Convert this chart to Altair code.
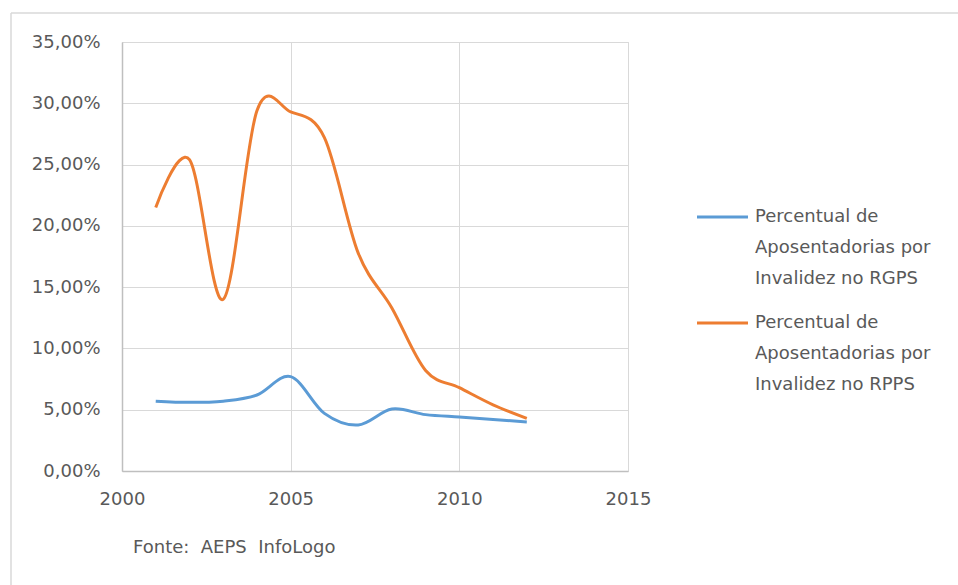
import altair as alt
import pandas as pd

# Share of disability retirements (aposentadorias por invalidez), 2001-2012
years = [2001, 2002, 2003, 2004, 2005, 2006, 2007, 2008, 2009, 2010, 2011, 2012]
rgps = [5.7, 5.6, 5.7, 6.2, 7.7, 4.7, 3.75, 5.05, 4.6, 4.4, 4.2, 4.0]
rpps = [21.5, 25.4, 14.0, 29.4, 29.3, 27.2, 17.8, 13.3, 8.2, 6.8, 5.4, 4.3]

series_names = [
    "Percentual de\nAposentadorias por\nInvalidez no RGPS",
    "Percentual de\nAposentadorias por\nInvalidez no RPPS",
]
colors = ["#5b9bd5", "#ed7d31"]
y_ticks = [0, 5, 10, 15, 20, 25, 30, 35]
x_ticks = [2000, 2005, 2010, 2015]
source_text = "Fonte:\u00a0 AEPS\u00a0 InfoLogo"

FONT = "DejaVu Sans"
FONT_SIZE = 18
TEXT_COLOR = "#595959"

rows = []
for name, vals in zip(series_names, [rgps, rpps]):
    for yr, v in zip(years, vals):
        rows.append({"ano": yr, "valor": v / 100.0, "serie": name})
df = pd.DataFrame(rows)

W, H = 506, 429
PAD_L, PAD_T = 122, 42

lines = alt.Chart(df).mark_line(
    strokeWidth=3, interpolate="cardinal", clip=False
).encode(
    x=alt.X(
        "ano:Q",
        scale=alt.Scale(domain=[2000, 2015], nice=False),
        axis=alt.Axis(
            values=x_ticks, format="d", title=None, ticks=False,
            labelPadding=19, grid=True, labelFlush=False,
        ),
    ),
    y=alt.Y(
        "valor:Q",
        scale=alt.Scale(domain=[0, 0.35], nice=False),
        axis=alt.Axis(
            values=[t / 100 for t in y_ticks],
            labelExpr="replace(format(datum.value * 100, '.2f'), '.', ',') + '%'",
            title=None, ticks=False, labelPadding=22, grid=True,
        ),
    ),
    color=alt.Color(
        "serie:N",
        scale=alt.Scale(domain=series_names, range=colors),
        legend=None,
    ),
)

# Legend drawn beside the plot: colour swatch plus wrapped label per series
leg_x0, leg_x1, leg_tx = 697 - PAD_L, 748 - PAD_L, 755 - PAD_L
leg_y = [217 - PAD_T, 323 - PAD_T]
legend_layers = []
for name, col, ly in zip(series_names, colors, leg_y):
    legend_layers.append(
        alt.Chart(pd.DataFrame({"t": [name]})).mark_rule(
            color=col, strokeWidth=3, clip=False
        ).encode(x=alt.value(leg_x0), x2=alt.value(leg_x1), y=alt.value(ly))
    )
    legend_layers.append(
        alt.Chart(pd.DataFrame({"t": [name]})).mark_text(
            align="left", baseline="middle", lineBreak="\n", lineHeight=31,
            font=FONT, fontSize=FONT_SIZE, color=TEXT_COLOR, clip=False,
        ).encode(text="t:N", x=alt.value(leg_tx), y=alt.value(ly))
    )

source = alt.Chart(pd.DataFrame({"t": [source_text]})).mark_text(
    align="left", baseline="middle", font=FONT, fontSize=FONT_SIZE,
    color=TEXT_COLOR, clip=False,
).encode(text="t:N", x=alt.value(133 - PAD_L), y=alt.value(548 - PAD_T))

# Outer chart-area frame (top and left edges)
frame_top = alt.Chart(pd.DataFrame({"t": [0]})).mark_rule(
    color="#d9d9d9", strokeWidth=1.5, clip=False
).encode(x=alt.value(11 - PAD_L), x2=alt.value(958 - PAD_L), y=alt.value(13 - PAD_T))
frame_left = alt.Chart(pd.DataFrame({"t": [0]})).mark_rule(
    color="#d9d9d9", strokeWidth=1.5, clip=False
).encode(x=alt.value(11 - PAD_L), y=alt.value(13 - PAD_T), y2=alt.value(585 - PAD_T))

chart = alt.layer(
    frame_top, frame_left, lines, *legend_layers, source
).properties(
    width=W, height=H,
    autosize=alt.AutoSizeParams(type="none"),
    padding={"left": PAD_L, "top": PAD_T, "right": 958 - PAD_L - W, "bottom": 585 - PAD_T - H},
    background="white",
).configure_view(
    stroke="#d9d9d9", strokeWidth=1
).configure_axis(
    labelFont=FONT, labelFontSize=FONT_SIZE, labelColor=TEXT_COLOR,
    gridColor="#d9d9d9", gridWidth=1,
    domainColor="#bfbfbf", domainWidth=1.5,
)

chart.save("out.html", embed_options={"renderer": "svg", "actions": False})
